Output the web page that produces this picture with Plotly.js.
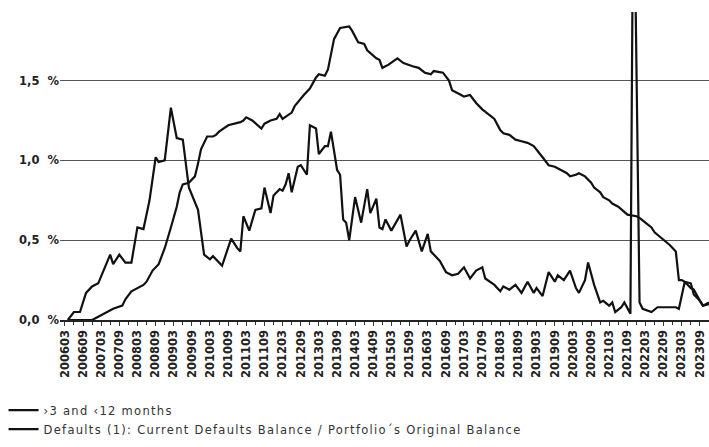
<!DOCTYPE html>
<html>
<head>
<meta charset="utf-8">
<script src="https://cdn.plot.ly/plotly-3.0.1.min.js"></script>
<style>
html,body{margin:0;padding:0;background:#fff;}
#chart{width:709px;height:447px;}
.legendtext{letter-spacing:1.3px;}
</style>
</head>
<body>
<div id="chart"></div>
<script>
// Series 1: >3 and <12 months arrears (% of portfolio)
const arrearsPeriods = ["2006-04","2006-06","2006-08","2006-10","2006-12","2007-02","2007-06","2007-07","2007-09","2007-11",
"2008-01","2008-03","2008-05","2008-07","2008-09","2008-10","2008-12","2009-02","2009-04","2009-06",
"2009-08","2009-11","2010-01","2010-03","2010-04","2010-06","2010-07","2010-10","2010-12","2011-01",
"2011-02","2011-04","2011-06","2011-08","2011-09","2011-11","2011-12","2012-02","2012-03","2012-04",
"2012-05","2012-06","2012-08","2012-09","2012-11","2012-12","2013-02","2013-03","2013-05","2013-06",
"2013-07","2013-09","2013-10","2013-11","2013-12","2014-01","2014-03","2014-05","2014-07","2014-08",
"2014-10","2014-11","2014-12","2015-01","2015-03","2015-06","2015-08","2015-09","2015-11","2016-01",
"2016-03","2016-04","2016-06","2016-07","2016-09","2016-11","2017-01","2017-03","2017-05","2017-07",
"2017-09","2017-10","2018-01","2018-03","2018-04","2018-06","2018-08","2018-10","2018-12","2019-02",
"2019-03","2019-05","2019-07","2019-09","2019-10","2019-12","2020-02","2020-04","2020-05","2020-07",
"2020-08","2020-10","2020-12","2021-01","2021-03","2021-04","2021-05","2021-07","2021-08","2021-10",
"2021-11","2022-01","2022-02","2022-05","2022-07","2022-10","2023-01","2023-02","2023-03","2023-04",
"2023-06","2023-07","2023-09","2023-10","2023-12"];
const arrearsValues = [0.00,0.05,0.05,0.17,0.21,0.23,0.41,0.35,0.41,0.36,
0.36,0.58,0.57,0.75,1.02,0.99,1.00,1.33,1.14,1.13,
0.83,0.69,0.41,0.38,0.40,0.36,0.34,0.51,0.45,0.43,
0.65,0.56,0.69,0.70,0.83,0.67,0.78,0.82,0.81,0.85,
0.92,0.80,0.96,0.97,0.91,1.22,1.20,1.04,1.09,1.09,
1.18,0.94,0.91,0.63,0.61,0.50,0.77,0.61,0.82,0.67,
0.76,0.58,0.57,0.63,0.56,0.66,0.46,0.50,0.56,0.43,
0.54,0.43,0.39,0.37,0.30,0.28,0.29,0.33,0.26,0.31,
0.33,0.26,0.22,0.18,0.21,0.19,0.22,0.17,0.24,0.17,
0.20,0.15,0.30,0.24,0.28,0.25,0.31,0.20,0.17,0.25,
0.36,0.22,0.11,0.12,0.09,0.11,0.05,0.08,0.11,0.04,
3.00,0.11,0.07,0.05,0.08,0.08,0.08,0.07,0.15,0.24,
0.20,0.19,0.12,0.09,0.10];

// Series 2: Defaults (1): current defaults balance / portfolio's original balance
const defaultsPeriods = ["2006-04","2006-12","2007-02","2007-05","2007-07","2007-10","2007-11","2008-01","2008-03","2008-05",
"2008-06","2008-08","2008-10","2008-11","2008-12","2009-02","2009-04","2009-05","2009-06","2009-08",
"2009-10","2009-11","2009-12","2010-02","2010-04","2010-05","2010-06","2010-09","2010-11","2011-01",
"2011-02","2011-03","2011-05","2011-07","2011-08","2011-09","2011-11","2012-01","2012-02","2012-03",
"2012-05","2012-06","2012-07","2012-09","2012-10","2012-12","2013-02","2013-03","2013-05","2013-06",
"2013-07","2013-08","2013-10","2014-01","2014-02","2014-04","2014-06","2014-07","2014-10","2014-11",
"2014-12","2015-02","2015-05","2015-07","2015-10","2015-12","2016-02","2016-04","2016-05","2016-08",
"2016-10","2016-11","2017-02","2017-03","2017-05","2017-07","2017-09","2018-01","2018-03","2018-04",
"2018-06","2018-08","2018-10","2018-12","2019-02","2019-03","2019-05","2019-07","2019-09","2019-11",
"2020-01","2020-02","2020-04","2020-05","2020-07","2020-09","2020-10","2020-12","2021-01","2021-03",
"2021-04","2021-06","2021-08","2021-09","2021-12","2022-01","2022-03","2022-05","2022-06","2022-08",
"2022-09","2022-11","2023-01","2023-02","2023-03","2023-04","2023-06","2023-07","2023-09","2023-10",
"2023-12"];
const defaultsValues = [0.00,0.00,0.02,0.05,0.07,0.09,0.13,0.18,0.20,0.22,
0.24,0.31,0.35,0.40,0.45,0.58,0.71,0.80,0.85,0.86,
0.90,0.98,1.07,1.15,1.15,1.16,1.18,1.22,1.23,1.24,
1.25,1.27,1.25,1.22,1.20,1.23,1.25,1.26,1.29,1.26,
1.29,1.30,1.34,1.39,1.41,1.45,1.52,1.54,1.53,1.57,
1.67,1.76,1.83,1.84,1.81,1.74,1.73,1.69,1.64,1.63,
1.58,1.60,1.64,1.61,1.59,1.58,1.55,1.54,1.56,1.55,
1.50,1.44,1.41,1.40,1.41,1.36,1.32,1.26,1.19,1.17,
1.16,1.13,1.12,1.11,1.09,1.07,1.02,0.97,0.96,0.94,
0.92,0.90,0.91,0.92,0.90,0.86,0.83,0.80,0.77,0.75,
0.73,0.71,0.68,0.66,0.65,0.64,0.61,0.58,0.55,0.52,
0.50,0.47,0.43,0.25,0.25,0.24,0.23,0.16,0.12,0.09,
0.11];

const seriesNames = ["\u203A3 and \u203912 months", "Defaults (1): Current Defaults Balance / Portfolio\u00B4s Original Balance"];

const xTickLabels = ["200603","200609","200703","200709","200803","200809","200903","200909","201003","201009",
"201103","201109","201203","201209","201303","201309","201403","201409","201503","201509",
"201603","201609","201703","201709","201803","201809","201903","201909","202003","202009",
"202103","202109","202203","202209","202303","202309"];
const yTickVals = [0, 0.5, 1.0, 1.5];
const yTickText = ["0,0\u00A0\u00A0%", "0,5\u00A0\u00A0%", "1,0\u00A0\u00A0%", "1,5\u00A0\u00A0%"];

const xTickVals = xTickLabels.map(s => s.slice(0,4) + "-" + s.slice(4,6) + "-01");

const lineStyle = {color: "#111", width: 2.2};
const traces = [
  {x: arrearsPeriods, y: arrearsValues, type: "scatter", mode: "lines", name: seriesNames[0], line: lineStyle},
  {x: defaultsPeriods, y: defaultsValues, type: "scatter", mode: "lines", name: seriesNames[1], line: lineStyle}
];

const layout = {
  width: 709, height: 447,
  margin: {l: 60, r: 0, t: 12, b: 127, autoexpand: false},
  paper_bgcolor: "#fff", plot_bgcolor: "#fff",
  font: {family: "DejaVu Sans", color: "#222"},
  showlegend: true,
  legend: {
    xref: "container", yref: "container",
    x: 0.005, y: 0.115, xanchor: "left", yanchor: "top",
    orientation: "v", traceorder: "normal",
    font: {family: "DejaVu Sans", size: 11.5, color: "#333"},
    bgcolor: "rgba(0,0,0,0)", itemwidth: 30, tracegroupgap: 0
  },
  xaxis: {
    type: "date",
    range: ["2006-01-12", "2023-12-01"],
    tickmode: "array", tickvals: xTickVals, ticktext: xTickLabels,
    tickangle: -90,
    tickfont: {family: "DejaVu Sans", size: 11.5, color: "#222", weight: "bold"},
    ticks: "outside", ticklen: 4, tickcolor: "#333", tickwidth: 1,
    minor: {dtick: "M3", tick0: "2006-03-01", ticks: "outside", ticklen: 3, tickcolor: "#333", showgrid: false},
    showgrid: false, zeroline: false,
    showline: true, linecolor: "#222", linewidth: 1.5,
    automargin: false, fixedrange: true
  },
  yaxis: {
    range: [0, 1.93],
    tickmode: "array", tickvals: yTickVals, ticktext: yTickText,
    tickfont: {family: "DejaVu Sans", size: 11.5, color: "#222", weight: "bold"},
    showgrid: true, gridcolor: "#555", gridwidth: 1,
    zeroline: false, showline: false, ticks: "",
    automargin: false, fixedrange: true
  }
};

Plotly.newPlot("chart", traces, layout, {displayModeBar: false, staticPlot: true});
</script>
</body>
</html>
